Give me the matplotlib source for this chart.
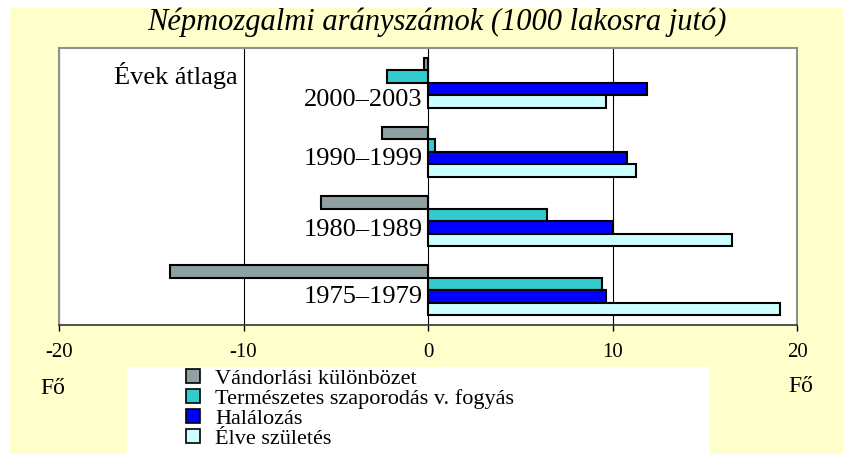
import matplotlib
matplotlib.use('Agg')
import matplotlib.pyplot as plt
from matplotlib.patches import Rectangle, Patch
import numpy as np

# Data (per 1000 inhabitants)
periods = ['2000–2003', '1990–1999', '1980–1989', '1975–1979']
vandorlasi = [-0.2, -2.5, -5.8, -14.0]      # migration difference
termeszetes = [-2.2, 0.4, 6.45, 9.45]       # natural increase / decrease
halalozas = [11.85, 10.8, 10.0, 9.65]       # deaths
elve_szuletes = [9.65, 11.3, 16.45, 19.1]   # live births

series_labels = ['Vándorlási különbözet', 'Természetes szaporodás v. fogyás',
                 'Halálozás', 'Élve születés']
series_colors = ['#8fa0a0', '#33cccc', '#0000ff', '#ccffff']
x_ticks = [-20, -10, 0, 10, 20]

plt.rcParams['font.family'] = ['Liberation Serif', 'DejaVu Serif']

W, H = 843, 454
fig = plt.figure(figsize=(W / 100, H / 100), dpi=100)
fig.patch.set_facecolor('white')

# yellow background and white legend box
fig.patches.append(Rectangle((10 / W, 0), 1 - 10 / W, 1 - 8 / H, transform=fig.transFigure,
                             facecolor='#ffffcc', edgecolor='none', zorder=-10))
fig.patches.append(Rectangle((127 / W, 0), (710 - 127) / W, (454 - 367) / H, transform=fig.transFigure,
                             facecolor='white', edgecolor='none', zorder=-5))

ax = fig.add_axes([59 / W, 1 - 325 / H, (797 - 59) / W, (325 - 48) / H])
ax.set_facecolor('white')

y = np.arange(len(periods))
h = 0.18
all_series = [vandorlasi, termeszetes, halalozas, elve_szuletes]
for i, (vals, col) in enumerate(zip(all_series, series_colors)):
    ax.barh(y + (i - 1.5) * h, vals, height=h, color=col, edgecolor='black', linewidth=1.5, zorder=3)

ax.set_xlim(-20, 20)
ax.set_ylim(3.5, -0.5)
ax.set_yticks([])
ax.set_xticks(x_ticks)
ax.set_xticklabels([str(t) for t in x_ticks])
ax.tick_params(axis='x', direction='out', length=4, width=1, color='black', pad=9, labelsize=15)
ax.grid(axis='x', color='black', linewidth=0.8)
ax.set_axisbelow(True)

for side in ['top', 'left', 'right']:
    ax.spines[side].set_color('#909090')
    ax.spines[side].set_linewidth(1.5)
ax.spines['bottom'].set_color('#333333')
ax.spines['bottom'].set_linewidth(1.2)

# period labels next to the zero line
label_offsets = [0.25, 0.1, 0.13, 0.1]
for yi, lab, off in zip(y, periods, label_offsets):
    ax.text(-0.3, yi + off, lab, ha='right', va='center', fontsize=19, zorder=4)

ax.text(-10.3, -0.1, 'Évek átlaga', ha='right', va='center', fontsize=19)

fig.text(437 / W, 1 - 22 / H, 'Népmozgalmi arányszámok (1000 lakosra jutó)',
         ha='center', va='center', fontsize=22, style='italic')
fig.text(53 / W, 1 - 388 / H, 'Fő', ha='center', va='center', fontsize=17)
fig.text(801 / W, 1 - 387 / H, 'Fő', ha='center', va='center', fontsize=17)

handles = [Patch(facecolor=c, edgecolor='black', linewidth=1.2) for c in series_colors]
fig.legend(handles, series_labels, loc='upper left', bbox_to_anchor=(186 / W, 1 - 369 / H),
           frameon=False, fontsize=16, handlelength=0.65, handleheight=0.6,
           handletextpad=0.65, labelspacing=0.0, borderpad=0, borderaxespad=0)

fig.savefig('out.png', dpi=100, facecolor=fig.get_facecolor())
